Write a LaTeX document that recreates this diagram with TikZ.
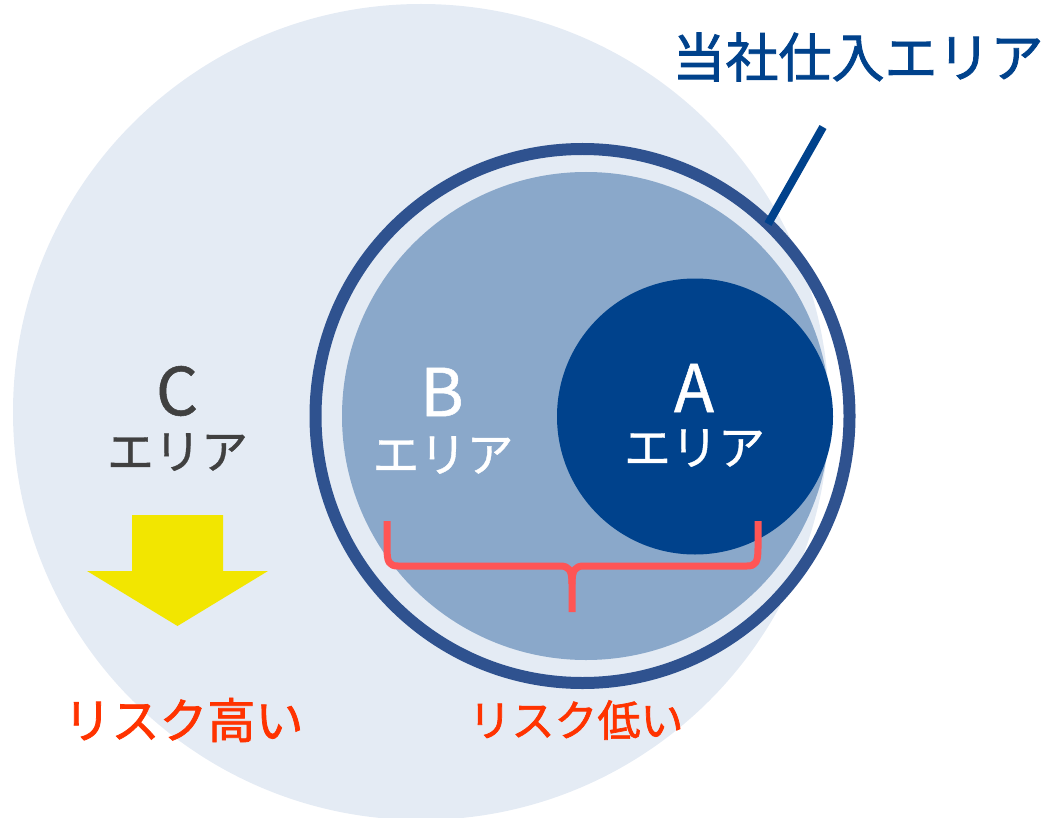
\documentclass[tikz,border=0pt]{standalone}
\usepackage{fontspec}
\setmainfont{Noto Sans CJK JP}
\newfontfamily\medfont[FakeBold=1.6]{Noto Sans CJK JP}
\newfontfamily\semifont[FakeBold=0.8]{Noto Sans CJK JP}
\definecolor{bgc}{HTML}{E4EBF4}
\definecolor{midc}{HTML}{8AA8CA}
\definecolor{darkc}{HTML}{00428C}
\definecolor{ringc}{HTML}{2F528F}
\definecolor{grayt}{HTML}{404040}
\definecolor{riskt}{HTML}{FF3300}
\definecolor{bracec}{HTML}{FF5555}
\definecolor{arrowc}{HTML}{F2E600}
\begin{document}
\begin{tikzpicture}[x=1pt,y=-1pt,
  disk/.style={circle,inner sep=0pt,outer sep=0pt},
  lbl/.style={inner sep=0pt,outer sep=0pt,anchor=center},
  letter/.style={lbl,font=\semifont\fontsize{66}{70}\selectfont},
  area/.style={lbl,font=\semifont\fontsize{47}{52}\selectfont}]
\useasboundingbox (0,0) rectangle (1046,818);
\clip (0,0) rectangle (1046,818);
% outer area C
\node[disk,fill=bgc,minimum size=816pt] (Cdisk) at (421,412) {};
% area B
\node[disk,fill=midc,minimum size=488pt] (Bdisk) at (586,416) {};
% area A
\node[disk,fill=darkc,minimum size=276pt] (Adisk) at (695,416.5) {};
% ring
\node[disk,draw=ringc,line width=12pt,minimum size=534pt] (ring) at (582.5,416) {};
% leader line
\coordinate (lineend) at (823,127);
\draw[darkc,line width=8pt] (ring.46.7) -- (lineend);
\node[lbl,font=\medfont\fontsize{53}{58}\selectfont,text=darkc] (title) at (858,57) {当社仕入エリア};
% labels
\node[letter,text=grayt] (Cl) at (177,391) {C};
\node[area,text=grayt] (Ct) at (177.5,452) {エリア};
\node[letter,text=white] (Bl) at (442,392) {B};
\node[area,text=white] (Bt) at (443,455) {エリア};
\node[letter,text=white] (Al) at (694,388) {A};
\node[area,text=white] (At) at (694.5,448) {エリア};
% yellow arrow
\fill[arrowc] (132,515) -- (223,515) -- (223,571) -- (268,571) -- (177.5,626) -- (87,571) -- (132,571) -- cycle;
% risk labels
\node[lbl,font=\medfont\fontsize{48}{52}\selectfont,text=riskt] (high) at (183.5,720) {リスク高い};
\node[lbl,font=\medfont\fontsize{43}{48}\selectfont,text=riskt] (low) at (576,720) {リスク低い};
% brace
\draw[bracec,line width=7pt,line join=round]
  (387,521) -- (387,548) .. controls (387,562) and (389,566) .. (398,566)
  -- (560,566) .. controls (569,566) and (572,570) .. (572,584) -- (572,612);
\draw[bracec,line width=7pt,line join=round]
  (758,521) -- (758,548) .. controls (758,562) and (756,566) .. (747,566)
  -- (584,566) .. controls (575,566) and (572,570) .. (572,584);
\end{tikzpicture}
\end{document}
